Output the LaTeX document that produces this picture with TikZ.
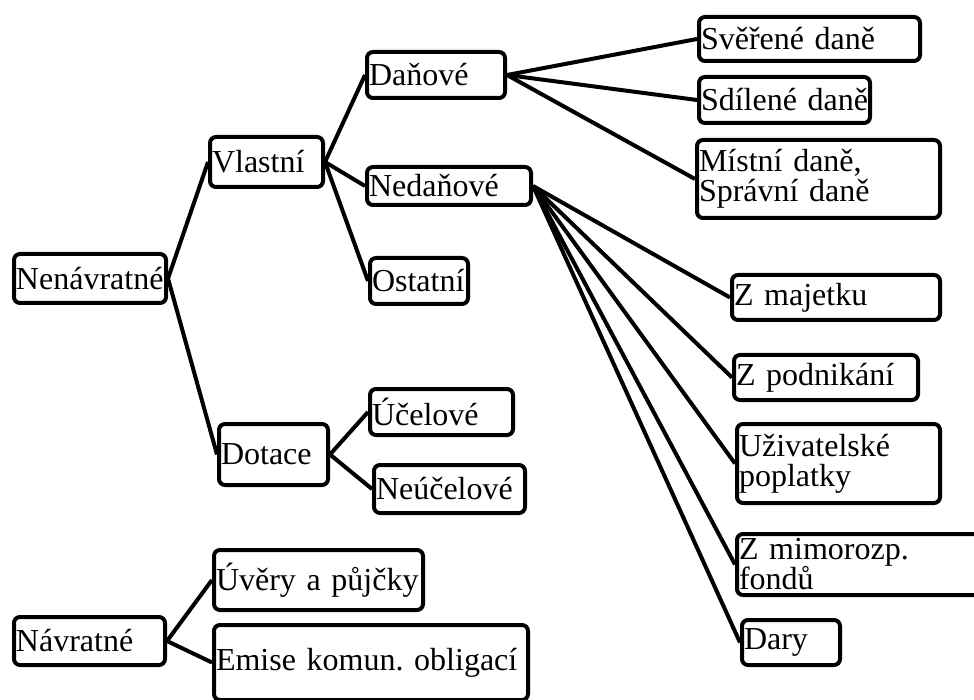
\documentclass[tikz,border=0pt]{standalone}
\usepackage{fontspec}
\setmainfont{Liberation Serif}
\frenchspacing
\begin{document}
\begin{tikzpicture}[x=1pt,y=-1pt,
  bx/.style={draw=black, line width=4pt, rounded corners=6pt, fill=white,
    inner xsep=2pt, inner ysep=0pt, outer sep=2pt, anchor=north west,
    align=left, font=\fontsize{32}{30}\selectfont\frenchspacing},
  link/.style={draw=black, line width=4pt}]
\useasboundingbox (0,0) rectangle (974,700);
\fill[white] (0,0) rectangle (974,700);
\clip (0,0) rectangle (974,700);
% boxes
\node[bx, text width=148pt, minimum height=49pt] (nen) at (12,252) {Nenávratné};
\node[bx, text width=109pt, minimum height=50pt] (vla) at (208,135) {Vlastní};
\node[bx, text width=134pt, minimum height=46pt] (dan) at (365,50) {Daňové};
\node[bx, text width=160pt, minimum height=38pt] (ned) at (365,165) {Nedaňové};
\node[bx, text width=94pt, minimum height=46pt] (ost) at (368,256) {Ostatní};
\node[bx, text width=217pt, minimum height=44pt] (sve) at (697,15) {Svěřené~daně};
\node[bx, text width=167pt, minimum height=46pt] (sdi) at (697,75) {Sdílené~daně};
\node[bx, text width=239pt, minimum height=78pt] (mis) at (695,138) {Místní~daně,\\Správní~daně};
\node[bx, text width=204pt, minimum height=45pt] (zma) at (730,273) {Z~majetku};
\node[bx, text width=180pt, minimum height=45pt] (zpo) at (732,353) {Z~podnikání};
\node[bx, text width=199pt, minimum height=79pt] (uzi) at (735,422) {Uživatelské\\poplatky};
\node[bx, text width=267pt, minimum height=61pt] (zmi) at (735,532) {Z~mimorozp.\\fondů};
\node[bx, text width=94pt, minimum height=45pt] (dar) at (740,618) {Dary};
\node[bx, text width=105pt, minimum height=61pt] (dot) at (217,422) {Dotace};
\node[bx, text width=139pt, minimum height=46pt] (uce) at (368,387) {Účelové};
\node[bx, text width=147pt, minimum height=48pt] (neu) at (372,463) {Neúčelové};
\node[bx, text width=147pt, minimum height=48pt] (nav) at (12,615) {Návratné};
\node[bx, text width=205pt, minimum height=60pt] (uve) at (212,548) {Úvěry~a~půjčky};
\node[bx, text width=310pt, minimum height=75pt] (emi) at (212,623) {Emise~komun.~obligací};
% connectors
\draw[link] (nen.east) -- (vla.west);
\draw[link] (nen.east) -- (dot.west);
\draw[link] (vla.east) -- (dan.west);
\draw[link] (vla.east) -- (ned.west);
\draw[link] (vla.east) -- (ost.west);
\draw[link] (dan.east) -- (sve.west);
\draw[link] (dan.east) -- (sdi.west);
\draw[link] (dan.east) -- (mis.west);
\draw[link] (ned.east) -- (zma.west);
\draw[link] (ned.east) -- (zpo.west);
\draw[link] (ned.east) -- (uzi.west);
\draw[link] (ned.east) -- (zmi.west);
\draw[link] (ned.east) -- (dar.west);
\draw[link] (dot.east) -- (uce.west);
\draw[link] (dot.east) -- (neu.west);
\draw[link] (nav.east) -- (uve.west);
\draw[link] (nav.east) -- (emi.west);
\end{tikzpicture}
\end{document}
